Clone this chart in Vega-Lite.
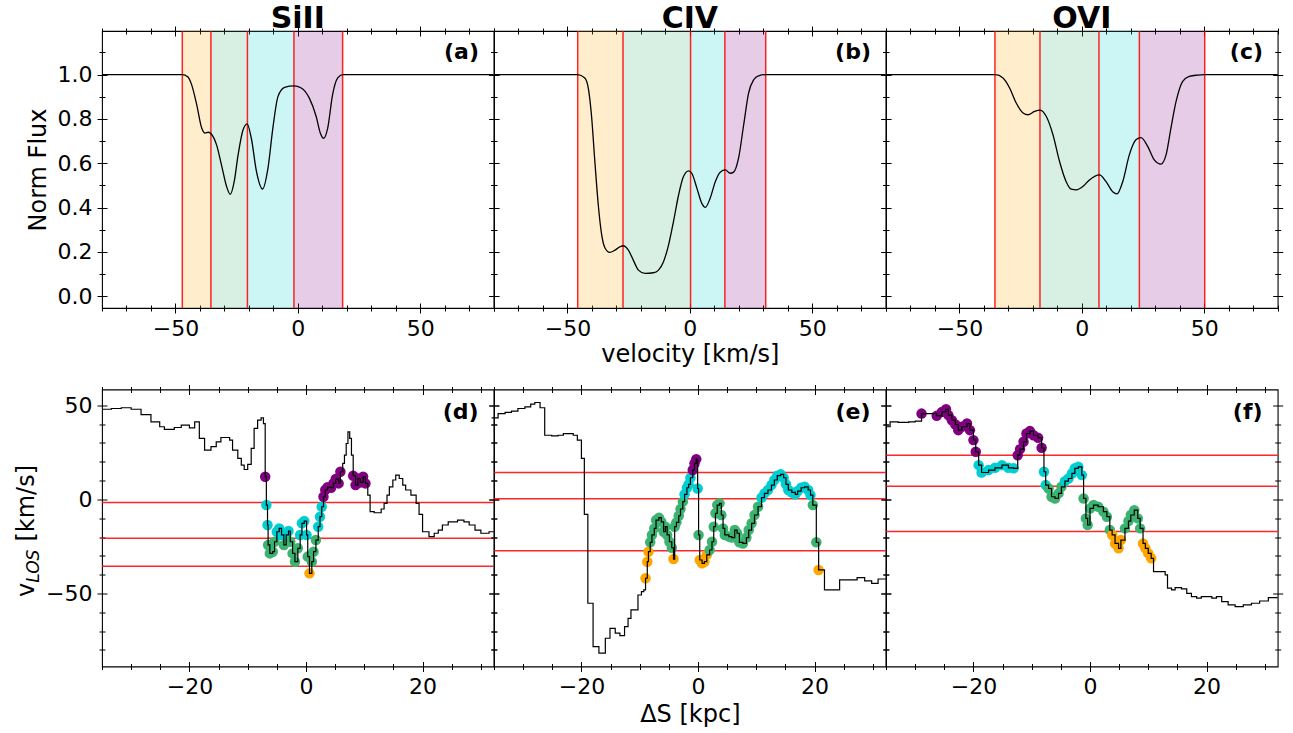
{
"$schema": "https://vega.github.io/schema/vega-lite/v6.json",
"background": "white",
"autosize": {"type": "pad"},
"padding": {"left": 13, "top": 3, "right": 10, "bottom": 5},
"config": {
 "font": "DejaVu Sans",
 "view": {"stroke": "#000", "strokeWidth": 1.1},
 "axis": {"domain": false, "grid": false, "tickColor": "#000", "tickWidth": 1, "labelFontSize": 22, "labelColor": "#000", "labelFlush": false, "labelOverlap": false, "labelPadding": 5, "titleFontSize": 24, "titleFontWeight": "normal", "titleColor": "#000"},
 "title": {"fontSize": 30, "fontWeight": "bold", "color": "#000", "offset": -8.8}
},
"datasets": {
 "regA": [{"v0":-47.2,"v1":-35.5,"r":"o"},{"v0":-35.5,"v1":-20.6,"r":"g"},{"v0":-20.6,"v1":-1.6,"r":"c"},{"v0":-1.6,"v1":18.3,"r":"p"}],
 "regB": [{"v0":-45.8,"v1":-27.3,"r":"o"},{"v0":-27.3,"v1":0.3,"r":"g"},{"v0":0.3,"v1":14.3,"r":"c"},{"v0":14.3,"v1":31.0,"r":"p"}],
 "regC": [{"v0":-35.5,"v1":-17.1,"r":"o"},{"v0":-17.1,"v1":7.0,"r":"g"},{"v0":7.0,"v1":23.5,"r":"c"},{"v0":23.5,"v1":50.2,"r":"p"}],
 "bndA": [{"v":-47.2},{"v":-35.5},{"v":-20.6},{"v":-1.6},{"v":18.3}],
 "bndB": [{"v":-45.8},{"v":-27.3},{"v":0.3},{"v":14.3},{"v":31.0}],
 "bndC": [{"v":-35.5},{"v":-17.1},{"v":7.0},{"v":23.5},{"v":50.2}],
 "hD": [{"v":-35.5},{"v":-20.6},{"v":-1.6}],
 "hE": [{"v":-27.3},{"v":0.3},{"v":14.3}],
 "hF": [{"v":-17.1},{"v":7.0},{"v":23.5}],
 "labA": [{"vel":74,"flux":1.1,"t":"(a)"}],
 "labB": [{"vel":74,"flux":1.1,"t":"(b)"}],
 "labC": [{"vel":74,"flux":1.1,"t":"(c)"}],
 "labD": [{"ds":29.6,"vlos":46.2,"t":"(d)"}],
 "labE": [{"ds":29.6,"vlos":46.2,"t":"(e)"}],
 "labF": [{"ds":29.6,"vlos":46.2,"t":"(f)"}],
 "specA": [{"vel":-80,"flux":1},{"vel":-47.2,"flux":1},{"vel":-45,"flux":0.99},{"vel":-43.4,"flux":0.955},{"vel":-41.3,"flux":0.864},{"vel":-39.3,"flux":0.76},{"vel":-37.9,"flux":0.736},{"vel":-36.6,"flux":0.74},{"vel":-35.2,"flux":0.73},{"vel":-33.2,"flux":0.683},{"vel":-31.2,"flux":0.593},{"vel":-29.1,"flux":0.495},{"vel":-27.6,"flux":0.46},{"vel":-26.0,"flux":0.517},{"vel":-24.4,"flux":0.638},{"vel":-22.4,"flux":0.75},{"vel":-20.7,"flux":0.778},{"vel":-19.0,"flux":0.713},{"vel":-16.9,"flux":0.563},{"vel":-14.4,"flux":0.484},{"vel":-12.2,"flux":0.578},{"vel":-10.2,"flux":0.759},{"vel":-8.1,"flux":0.902},{"vel":-5.4,"flux":0.943},{"vel":-1.6,"flux":0.949},{"vel":1.4,"flux":0.94},{"vel":4.7,"flux":0.894},{"vel":7.5,"flux":0.811},{"vel":9.2,"flux":0.736},{"vel":10.6,"flux":0.713},{"vel":12.2,"flux":0.759},{"vel":14.2,"flux":0.91},{"vel":16.3,"flux":0.985},{"vel":18.3,"flux":1},{"vel":80,"flux":1}],
 "specB": [{"vel":-80,"flux":1},{"vel":-45.8,"flux":1},{"vel":-42.9,"flux":0.985},{"vel":-41.5,"flux":0.94},{"vel":-40.2,"flux":0.819},{"vel":-38.8,"flux":0.608},{"vel":-37.4,"flux":0.412},{"vel":-36.1,"flux":0.284},{"vel":-34.7,"flux":0.219},{"vel":-32.7,"flux":0.198},{"vel":-30.6,"flux":0.208},{"vel":-28.6,"flux":0.223},{"vel":-27.2,"flux":0.228},{"vel":-25.1,"flux":0.208},{"vel":-23.1,"flux":0.163},{"vel":-21.0,"flux":0.118},{"vel":-18.3,"flux":0.103},{"vel":-14.9,"flux":0.106},{"vel":-12.8,"flux":0.118},{"vel":-10.8,"flux":0.155},{"vel":-8.7,"flux":0.231},{"vel":-6.7,"flux":0.336},{"vel":-4.6,"flux":0.457},{"vel":-2.6,"flux":0.54},{"vel":-0.5,"flux":0.566},{"vel":0.8,"flux":0.555},{"vel":2.9,"flux":0.487},{"vel":4.9,"flux":0.419},{"vel":6.3,"flux":0.401},{"vel":8.3,"flux":0.442},{"vel":10.4,"flux":0.517},{"vel":12.4,"flux":0.56},{"vel":14.5,"flux":0.57},{"vel":16.5,"flux":0.555},{"vel":17.9,"flux":0.56},{"vel":19.9,"flux":0.623},{"vel":22.0,"flux":0.774},{"vel":24.0,"flux":0.917},{"vel":26.1,"flux":0.977},{"vel":28.1,"flux":0.995},{"vel":31.0,"flux":1},{"vel":80,"flux":1}],
 "specC": [{"vel":-80,"flux":1},{"vel":-35.3,"flux":1},{"vel":-32.2,"flux":0.985},{"vel":-29.5,"flux":0.94},{"vel":-26.8,"flux":0.872},{"vel":-24.0,"flux":0.827},{"vel":-22.0,"flux":0.819},{"vel":-19.3,"flux":0.834},{"vel":-17.0,"flux":0.84},{"vel":-14.5,"flux":0.811},{"vel":-11.8,"flux":0.729},{"vel":-9.1,"flux":0.608},{"vel":-6.4,"flux":0.517},{"vel":-4.3,"flux":0.483},{"vel":-2.3,"flux":0.48},{"vel":0.4,"flux":0.495},{"vel":3.1,"flux":0.525},{"vel":7.2,"flux":0.548},{"vel":9.9,"flux":0.517},{"vel":12.6,"flux":0.472},{"vel":14.4,"flux":0.462},{"vel":16.7,"flux":0.517},{"vel":19.4,"flux":0.638},{"vel":22.1,"flux":0.706},{"vel":24.2,"flux":0.716},{"vel":26.9,"flux":0.676},{"vel":29.6,"flux":0.615},{"vel":32.3,"flux":0.596},{"vel":34.4,"flux":0.638},{"vel":36.4,"flux":0.759},{"vel":38.5,"flux":0.879},{"vel":41.2,"flux":0.97},{"vel":43.9,"flux":0.992},{"vel":47.3,"flux":0.998},{"vel":50.1,"flux":1},{"vel":80,"flux":1}],
 "losD": [{"ds":-35.0,"vlos":47.9},{"ds":-33.4,"vlos":48.3},{"ds":-31.7,"vlos":48.7},{"ds":-30.0,"vlos":47.9},{"ds":-28.3,"vlos":45.1},{"ds":-26.6,"vlos":41.2},{"ds":-25.1,"vlos":38.6},{"ds":-24.3,"vlos":37.2},{"ds":-22.6,"vlos":38.2},{"ds":-21.4,"vlos":39.5},{"ds":-20.0,"vlos":38.0},{"ds":-19.1,"vlos":41.2},{"ds":-18.3,"vlos":32.4},{"ds":-17.4,"vlos":26.2},{"ds":-16.3,"vlos":28.0},{"ds":-15.4,"vlos":30.6},{"ds":-14.6,"vlos":32.9},{"ds":-13.1,"vlos":31.5},{"ds":-12.6,"vlos":26.2},{"ds":-11.7,"vlos":21.8},{"ds":-11.1,"vlos":18.2},{"ds":-10.6,"vlos":15.9},{"ds":-10.0,"vlos":18.6},{"ds":-9.4,"vlos":27.1},{"ds":-8.9,"vlos":37.7},{"ds":-8.3,"vlos":42.1},{"ds":-7.7,"vlos":43.3},{"ds":-7.3,"vlos":40.3},{"ds":-7.0,"vlos":12.0},{"ds":-6.8,"vlos":-3.0},{"ds":-6.6,"vlos":-13.6},{"ds":-6.5,"vlos":-24.2},{"ds":-6.2,"vlos":-28.7},{"ds":-5.7,"vlos":-27.8},{"ds":-5.4,"vlos":-22.5},{"ds":-5.0,"vlos":-17.2},{"ds":-4.6,"vlos":-15.4},{"ds":-4.2,"vlos":-18.9},{"ds":-3.8,"vlos":-24.2},{"ds":-3.4,"vlos":-18.9},{"ds":-3.0,"vlos":-16.8},{"ds":-2.7,"vlos":-22.5},{"ds":-2.3,"vlos":-28.7},{"ds":-1.9,"vlos":-33.1},{"ds":-1.4,"vlos":-26.0},{"ds":-1.0,"vlos":-18.9},{"ds":-0.7,"vlos":-12.7},{"ds":-0.3,"vlos":-11.5},{"ds":0.1,"vlos":-18.9},{"ds":0.3,"vlos":-30.4},{"ds":0.6,"vlos":-39.3},{"ds":1.0,"vlos":-33.1},{"ds":1.3,"vlos":-27.8},{"ds":1.7,"vlos":-21.6},{"ds":2.1,"vlos":-14.5},{"ds":2.4,"vlos":-9.2},{"ds":2.7,"vlos":-3.9},{"ds":3.0,"vlos":1.4},{"ds":3.3,"vlos":5.0},{"ds":3.7,"vlos":6.5},{"ds":4.3,"vlos":6.2},{"ds":4.7,"vlos":8.5},{"ds":5.1,"vlos":10.8},{"ds":5.6,"vlos":8.5},{"ds":5.9,"vlos":14.7},{"ds":6.3,"vlos":19.1},{"ds":6.6,"vlos":23.5},{"ds":6.9,"vlos":29.7},{"ds":7.2,"vlos":35.9},{"ds":7.5,"vlos":32.4},{"ds":7.8,"vlos":23.5},{"ds":8.1,"vlos":12.6},{"ds":8.5,"vlos":7.6},{"ds":8.9,"vlos":11.1},{"ds":9.3,"vlos":9.0},{"ds":9.8,"vlos":12.0},{"ds":10.2,"vlos":8.5},{"ds":10.6,"vlos":2.3},{"ds":11.0,"vlos":-6.5},{"ds":11.7,"vlos":-7.1},{"ds":12.9,"vlos":-5.1},{"ds":13.4,"vlos":-2.1},{"ds":13.9,"vlos":2.3},{"ds":14.3,"vlos":6.7},{"ds":14.9,"vlos":10.3},{"ds":15.4,"vlos":12.9},{"ds":16.0,"vlos":11.1},{"ds":16.6,"vlos":7.6},{"ds":17.1,"vlos":5.0},{"ds":18.0,"vlos":2.3},{"ds":18.9,"vlos":-2.1},{"ds":19.4,"vlos":-8.0},{"ds":20.0,"vlos":-17.2},{"ds":21.1,"vlos":-19.8},{"ds":22.0,"vlos":-18.0},{"ds":22.7,"vlos":-16.3},{"ds":23.4,"vlos":-13.6},{"ds":24.4,"vlos":-11.9},{"ds":26.0,"vlos":-11.0},{"ds":27.1,"vlos":-11.9},{"ds":28.0,"vlos":-13.6},{"ds":29.0,"vlos":-16.3},{"ds":30.0,"vlos":-18.0},{"ds":31.4,"vlos":-17.2},{"ds":32.2,"vlos":-17.2}],
 "losE": [{"ds":-35.4,"vlos":43.3},{"ds":-34.3,"vlos":45.6},{"ds":-33.1,"vlos":46.2},{"ds":-32.0,"vlos":46.9},{"ds":-30.9,"vlos":48.3},{"ds":-29.7,"vlos":49.2},{"ds":-28.7,"vlos":50.6},{"ds":-28.0,"vlos":51.5},{"ds":-27.1,"vlos":48.7},{"ds":-26.3,"vlos":34.1},{"ds":-25.1,"vlos":33.8},{"ds":-24.0,"vlos":34.1},{"ds":-23.1,"vlos":35.0},{"ds":-21.4,"vlos":34.1},{"ds":-20.7,"vlos":31.5},{"ds":-20.0,"vlos":21.8},{"ds":-19.5,"vlos":-8.0},{"ds":-18.9,"vlos":-55.2},{"ds":-18.0,"vlos":-78.2},{"ds":-17.0,"vlos":-81.7},{"ds":-15.9,"vlos":-73.8},{"ds":-15.1,"vlos":-68.5},{"ds":-14.2,"vlos":-71.1},{"ds":-13.4,"vlos":-72.4},{"ds":-12.6,"vlos":-67.6},{"ds":-12.0,"vlos":-63.2},{"ds":-11.5,"vlos":-58.7},{"ds":-10.3,"vlos":-50.8},{"ds":-9.7,"vlos":-49.0},{"ds":-9.3,"vlos":-48.1},{"ds":-9.0,"vlos":-41.9},{"ds":-8.7,"vlos":-33.1},{"ds":-8.5,"vlos":-27.8},{"ds":-8.2,"vlos":-22.8},{"ds":-7.9,"vlos":-18.9},{"ds":-7.5,"vlos":-15.4},{"ds":-7.2,"vlos":-11.0},{"ds":-6.7,"vlos":-9.7},{"ds":-6.3,"vlos":-11.9},{"ds":-5.9,"vlos":-17.2},{"ds":-5.6,"vlos":-14.5},{"ds":-5.3,"vlos":-18.9},{"ds":-4.9,"vlos":-22.5},{"ds":-4.5,"vlos":-25.7},{"ds":-4.2,"vlos":-31.7},{"ds":-4.0,"vlos":-14.5},{"ds":-3.7,"vlos":-12.2},{"ds":-3.3,"vlos":-8.7},{"ds":-3.0,"vlos":-5.1},{"ds":-2.6,"vlos":-1.2},{"ds":-2.3,"vlos":2.7},{"ds":-1.9,"vlos":6.2},{"ds":-1.6,"vlos":8.0},{"ds":-1.3,"vlos":11.5},{"ds":-0.9,"vlos":15.6},{"ds":-0.6,"vlos":19.1},{"ds":-0.3,"vlos":21.4},{"ds":-0.06,"vlos":5.8},{"ds":0.1,"vlos":-18.9},{"ds":0.3,"vlos":-32.2},{"ds":0.7,"vlos":-34.0},{"ds":1.1,"vlos":-33.1},{"ds":1.5,"vlos":-29.5},{"ds":2.0,"vlos":-26.9},{"ds":2.4,"vlos":-22.5},{"ds":2.7,"vlos":-14.5},{"ds":3.0,"vlos":-7.4},{"ds":3.3,"vlos":-3.0},{"ds":3.7,"vlos":-2.1},{"ds":4.0,"vlos":-8.3},{"ds":4.3,"vlos":-15.4},{"ds":4.6,"vlos":-18.9},{"ds":5.3,"vlos":-19.8},{"ds":5.8,"vlos":-20.3},{"ds":6.3,"vlos":-16.3},{"ds":6.7,"vlos":-18.0},{"ds":7.1,"vlos":-22.8},{"ds":7.7,"vlos":-23.4},{"ds":8.3,"vlos":-20.3},{"ds":8.7,"vlos":-16.3},{"ds":9.2,"vlos":-12.7},{"ds":9.7,"vlos":-8.3},{"ds":10.3,"vlos":-3.9},{"ds":10.9,"vlos":0.9},{"ds":11.4,"vlos":3.2},{"ds":12.0,"vlos":5.0},{"ds":12.6,"vlos":7.6},{"ds":13.1,"vlos":10.3},{"ds":13.6,"vlos":12.6},{"ds":14.2,"vlos":13.3},{"ds":14.7,"vlos":11.5},{"ds":15.1,"vlos":8.0},{"ds":15.5,"vlos":5.0},{"ds":16.1,"vlos":3.7},{"ds":16.7,"vlos":2.7},{"ds":17.1,"vlos":4.4},{"ds":17.7,"vlos":6.2},{"ds":18.3,"vlos":6.7},{"ds":18.9,"vlos":5.0},{"ds":19.3,"vlos":2.3},{"ds":19.7,"vlos":-3.0},{"ds":20.3,"vlos":-22.8},{"ds":20.7,"vlos":-37.5},{"ds":21.7,"vlos":-48.1},{"ds":24.3,"vlos":-42.8},{"ds":27.3,"vlos":-41.6},{"ds":28.6,"vlos":-43.3},{"ds":29.8,"vlos":-44.6},{"ds":30.9,"vlos":-42.3},{"ds":32.2,"vlos":-42.3}],
 "losF": [{"ds":-35.0,"vlos":38.6},{"ds":-34.3,"vlos":41.2},{"ds":-32.9,"vlos":40.9},{"ds":-31.1,"vlos":41.2},{"ds":-30.0,"vlos":41.6},{"ds":-28.9,"vlos":45.6},{"ds":-26.3,"vlos":44.4},{"ds":-25.4,"vlos":46.5},{"ds":-24.7,"vlos":47.9},{"ds":-24.3,"vlos":44.8},{"ds":-23.7,"vlos":42.1},{"ds":-23.1,"vlos":39.8},{"ds":-22.6,"vlos":36.8},{"ds":-22.0,"vlos":38.6},{"ds":-21.1,"vlos":40.3},{"ds":-20.6,"vlos":36.8},{"ds":-20.0,"vlos":31.5},{"ds":-19.6,"vlos":25.3},{"ds":-19.1,"vlos":18.2},{"ds":-18.6,"vlos":14.3},{"ds":-17.4,"vlos":15.6},{"ds":-16.3,"vlos":16.8},{"ds":-15.1,"vlos":18.2},{"ds":-14.0,"vlos":16.8},{"ds":-13.1,"vlos":16.5},{"ds":-12.4,"vlos":23.5},{"ds":-12.0,"vlos":26.7},{"ds":-11.4,"vlos":30.6},{"ds":-10.9,"vlos":35.0},{"ds":-10.3,"vlos":36.3},{"ds":-9.7,"vlos":34.1},{"ds":-8.9,"vlos":32.7},{"ds":-8.3,"vlos":27.4},{"ds":-7.9,"vlos":14.7},{"ds":-7.6,"vlos":7.6},{"ds":-7.1,"vlos":5.8},{"ds":-6.6,"vlos":1.4},{"ds":-6.0,"vlos":0.5},{"ds":-5.4,"vlos":3.2},{"ds":-4.9,"vlos":6.7},{"ds":-4.3,"vlos":9.7},{"ds":-3.7,"vlos":11.1},{"ds":-3.1,"vlos":13.8},{"ds":-2.6,"vlos":16.5},{"ds":-2.0,"vlos":17.3},{"ds":-1.4,"vlos":12.9},{"ds":-1.1,"vlos":0.5},{"ds":-0.7,"vlos":-10.1},{"ds":-0.4,"vlos":-13.6},{"ds":0.0,"vlos":-4.8},{"ds":0.6,"vlos":-3.0},{"ds":1.4,"vlos":-3.9},{"ds":2.3,"vlos":-6.5},{"ds":2.9,"vlos":-9.2},{"ds":3.4,"vlos":-16.3},{"ds":3.8,"vlos":-18.9},{"ds":4.3,"vlos":-23.4},{"ds":4.9,"vlos":-26.0},{"ds":5.3,"vlos":-21.6},{"ds":6.0,"vlos":-15.4},{"ds":6.6,"vlos":-11.5},{"ds":7.0,"vlos":-8.3},{"ds":7.6,"vlos":-5.7},{"ds":8.2,"vlos":-10.1},{"ds":8.6,"vlos":-15.4},{"ds":9.1,"vlos":-23.4},{"ds":9.5,"vlos":-26.0},{"ds":10.0,"vlos":-28.7},{"ds":10.5,"vlos":-31.3},{"ds":10.9,"vlos":-38.4},{"ds":12.9,"vlos":-40.1},{"ds":13.3,"vlos":-47.2},{"ds":14.0,"vlos":-48.1},{"ds":14.6,"vlos":-46.9},{"ds":15.7,"vlos":-47.6},{"ds":16.6,"vlos":-49.9},{"ds":17.4,"vlos":-51.7},{"ds":18.3,"vlos":-52.5},{"ds":19.1,"vlos":-51.7},{"ds":20.9,"vlos":-52.5},{"ds":21.7,"vlos":-51.7},{"ds":22.6,"vlos":-54.3},{"ds":23.7,"vlos":-56.1},{"ds":24.9,"vlos":-57.0},{"ds":26.3,"vlos":-56.1},{"ds":27.7,"vlos":-55.2},{"ds":29.1,"vlos":-54.0},{"ds":30.6,"vlos":-52.2},{"ds":32.2,"vlos":-52.2}]
},
"bounds": "flush",
"columns": 3,
"spacing": {"row": 81.5, "column": 0},
"resolve": {"scale": {"color": "independent", "fill": "independent"}},
"concat": [
 {"width": 391.67, "height": 277, "title": {"text": "SiII"},
  "resolve": {"axis": {"x": "independent", "y": "independent"}},
  "layer": [
   {"data": {"name": "regA"}, "mark": {"type": "rect", "opacity": 0.2}, "encoding": {"x": {"field": "v0", "type": "quantitative", "scale": {"domain": [-80, 80], "nice": false, "zero": false}, "axis": null}, "x2": {"field": "v1"}, "fill": {"field": "r", "type": "nominal", "scale": {"domain": ["o","g","c","p"], "range": ["#FFA500","#3CB371","#00CED1","#800080"]}, "legend": null}}},
   {"data": {"name": "bndA"}, "mark": {"type": "rule", "color": "#ff0000", "strokeWidth": 1.5, "opacity": 0.85}, "encoding": {"x": {"field": "v", "type": "quantitative", "scale": {"domain": [-80, 80], "nice": false, "zero": false}, "axis": null}}},
   {"data": {"name": "specA"}, "mark": {"type": "line", "color": "#000", "strokeWidth": 1.3, "interpolate": "monotone"}, "encoding": {
     "x": {"field": "vel", "type": "quantitative", "scale": {"domain": [-80, 80], "nice": false, "zero": false}, "axis": {"orient": "bottom", "values": [-80,-70,-60,-50,-40,-30,-20,-10,0,10,20,30,40,50,60,70,80], "tickSize": {"condition": {"test": "datum.value % 50 === 0", "value": 5}, "value": 3}, "labelExpr": "datum.value % 50 === 0 ? datum.label : ''", "title": null}},
     "y": {"field": "flux", "type": "quantitative", "scale": {"domain": [-0.053, 1.197], "nice": false, "zero": false}, "axis": {"orient": "left", "values": [0,0.1,0.2,0.3,0.4,0.5,0.6,0.7,0.8,0.9,1,1.1], "format": ".1f", "tickSize": {"condition": {"test": "round(datum.value*10) % 2 === 0", "value": 5}, "value": 3}, "labelExpr": "round(datum.value*10) % 2 === 0 ? datum.label : ''", "title": "Norm Flux", "titleX": -57, "titleY": 138.5, "titleAngle": 270, "titleAlign": "center", "titleBaseline": "alphabetic"}}}},
   {"data": {"name": "labA"}, "mark": {"type": "point", "opacity": 0}, "encoding": {
     "x": {"field": "vel", "type": "quantitative", "scale": {"domain": [-80, 80], "nice": false, "zero": false}, "axis": {"orient": "bottom", "values": [-80,-70,-60,-50,-40,-30,-20,-10,0,10,20,30,40,50,60,70,80], "tickSize": {"condition": {"test": "datum.value % 50 === 0", "value": -5}, "value": -3}, "labels": false, "title": null}},
     "y": {"field": "flux", "type": "quantitative", "scale": {"domain": [-0.053, 1.197], "nice": false, "zero": false}, "axis": {"orient": "left", "values": [0,0.1,0.2,0.3,0.4,0.5,0.6,0.7,0.8,0.9,1,1.1], "tickSize": {"condition": {"test": "round(datum.value*10) % 2 === 0", "value": -5}, "value": -3}, "labels": false, "title": null}}}},
   {"data": {"name": "labA"}, "mark": {"type": "point", "opacity": 0}, "encoding": {
     "x": {"field": "vel", "type": "quantitative", "scale": {"domain": [-80, 80], "nice": false, "zero": false}, "axis": {"orient": "top", "values": [-80,-70,-60,-50,-40,-30,-20,-10,0,10,20,30,40,50,60,70,80], "tickSize": {"condition": {"test": "datum.value % 50 === 0", "value": 5}, "value": 3}, "labels": false, "title": null}},
     "y": {"field": "flux", "type": "quantitative", "scale": {"domain": [-0.053, 1.197], "nice": false, "zero": false}, "axis": {"orient": "right", "values": [0,0.1,0.2,0.3,0.4,0.5,0.6,0.7,0.8,0.9,1,1.1], "tickSize": {"condition": {"test": "round(datum.value*10) % 2 === 0", "value": 5}, "value": 3}, "labels": false, "title": null}}}},
   {"data": {"name": "labA"}, "mark": {"type": "point", "opacity": 0}, "encoding": {
     "x": {"field": "vel", "type": "quantitative", "scale": {"domain": [-80, 80], "nice": false, "zero": false}, "axis": {"orient": "top", "values": [-80,-70,-60,-50,-40,-30,-20,-10,0,10,20,30,40,50,60,70,80], "tickSize": {"condition": {"test": "datum.value % 50 === 0", "value": -5}, "value": -3}, "labels": false, "title": null}},
     "y": {"field": "flux", "type": "quantitative", "scale": {"domain": [-0.053, 1.197], "nice": false, "zero": false}, "axis": {"orient": "right", "values": [0,0.1,0.2,0.3,0.4,0.5,0.6,0.7,0.8,0.9,1,1.1], "tickSize": {"condition": {"test": "round(datum.value*10) % 2 === 0", "value": -5}, "value": -3}, "labels": false, "title": null}}}},
   {"data": {"name": "labA"}, "mark": {"type": "text", "align": "right", "baseline": "middle", "fontSize": 22, "fontWeight": "bold", "color": "#000"}, "encoding": {"x": {"field": "vel", "type": "quantitative", "scale": {"domain": [-80, 80], "nice": false, "zero": false}, "axis": null}, "y": {"field": "flux", "type": "quantitative", "scale": {"domain": [-0.053, 1.197], "nice": false, "zero": false}, "axis": null}, "text": {"field": "t"}}}
  ]},
 {"width": 391.67, "height": 277, "title": {"text": "CIV"},
  "resolve": {"axis": {"x": "independent", "y": "independent"}},
  "layer": [
   {"data": {"name": "regB"}, "mark": {"type": "rect", "opacity": 0.2}, "encoding": {"x": {"field": "v0", "type": "quantitative", "scale": {"domain": [-80, 80], "nice": false, "zero": false}, "axis": null}, "x2": {"field": "v1"}, "fill": {"field": "r", "type": "nominal", "scale": {"domain": ["o","g","c","p"], "range": ["#FFA500","#3CB371","#00CED1","#800080"]}, "legend": null}}},
   {"data": {"name": "bndB"}, "mark": {"type": "rule", "color": "#ff0000", "strokeWidth": 1.5, "opacity": 0.85}, "encoding": {"x": {"field": "v", "type": "quantitative", "scale": {"domain": [-80, 80], "nice": false, "zero": false}, "axis": null}}},
   {"data": {"name": "specB"}, "mark": {"type": "line", "color": "#000", "strokeWidth": 1.3, "interpolate": "monotone"}, "encoding": {
     "x": {"field": "vel", "type": "quantitative", "scale": {"domain": [-80, 80], "nice": false, "zero": false}, "axis": {"orient": "bottom", "values": [-80,-70,-60,-50,-40,-30,-20,-10,0,10,20,30,40,50,60,70,80], "tickSize": {"condition": {"test": "datum.value % 50 === 0", "value": 5}, "value": 3}, "labelExpr": "datum.value % 50 === 0 ? datum.label : ''", "title": "velocity [km/s]", "titleX": 195.83, "titleY": 53, "titleAlign": "center", "titleBaseline": "alphabetic"}},
     "y": {"field": "flux", "type": "quantitative", "scale": {"domain": [-0.053, 1.197], "nice": false, "zero": false}, "axis": {"orient": "left", "values": [0,0.1,0.2,0.3,0.4,0.5,0.6,0.7,0.8,0.9,1,1.1], "tickSize": {"condition": {"test": "round(datum.value*10) % 2 === 0", "value": 5}, "value": 3}, "labels": false, "title": null}}}},
   {"data": {"name": "labB"}, "mark": {"type": "point", "opacity": 0}, "encoding": {
     "x": {"field": "vel", "type": "quantitative", "scale": {"domain": [-80, 80], "nice": false, "zero": false}, "axis": {"orient": "bottom", "values": [-80,-70,-60,-50,-40,-30,-20,-10,0,10,20,30,40,50,60,70,80], "tickSize": {"condition": {"test": "datum.value % 50 === 0", "value": -5}, "value": -3}, "labels": false, "title": null}},
     "y": {"field": "flux", "type": "quantitative", "scale": {"domain": [-0.053, 1.197], "nice": false, "zero": false}, "axis": {"orient": "left", "values": [0,0.1,0.2,0.3,0.4,0.5,0.6,0.7,0.8,0.9,1,1.1], "tickSize": {"condition": {"test": "round(datum.value*10) % 2 === 0", "value": -5}, "value": -3}, "labels": false, "title": null}}}},
   {"data": {"name": "labB"}, "mark": {"type": "point", "opacity": 0}, "encoding": {
     "x": {"field": "vel", "type": "quantitative", "scale": {"domain": [-80, 80], "nice": false, "zero": false}, "axis": {"orient": "top", "values": [-80,-70,-60,-50,-40,-30,-20,-10,0,10,20,30,40,50,60,70,80], "tickSize": {"condition": {"test": "datum.value % 50 === 0", "value": 5}, "value": 3}, "labels": false, "title": null}},
     "y": {"field": "flux", "type": "quantitative", "scale": {"domain": [-0.053, 1.197], "nice": false, "zero": false}, "axis": {"orient": "right", "values": [0,0.1,0.2,0.3,0.4,0.5,0.6,0.7,0.8,0.9,1,1.1], "tickSize": {"condition": {"test": "round(datum.value*10) % 2 === 0", "value": 5}, "value": 3}, "labels": false, "title": null}}}},
   {"data": {"name": "labB"}, "mark": {"type": "point", "opacity": 0}, "encoding": {
     "x": {"field": "vel", "type": "quantitative", "scale": {"domain": [-80, 80], "nice": false, "zero": false}, "axis": {"orient": "top", "values": [-80,-70,-60,-50,-40,-30,-20,-10,0,10,20,30,40,50,60,70,80], "tickSize": {"condition": {"test": "datum.value % 50 === 0", "value": -5}, "value": -3}, "labels": false, "title": null}},
     "y": {"field": "flux", "type": "quantitative", "scale": {"domain": [-0.053, 1.197], "nice": false, "zero": false}, "axis": {"orient": "right", "values": [0,0.1,0.2,0.3,0.4,0.5,0.6,0.7,0.8,0.9,1,1.1], "tickSize": {"condition": {"test": "round(datum.value*10) % 2 === 0", "value": -5}, "value": -3}, "labels": false, "title": null}}}},
   {"data": {"name": "labB"}, "mark": {"type": "text", "align": "right", "baseline": "middle", "fontSize": 22, "fontWeight": "bold", "color": "#000"}, "encoding": {"x": {"field": "vel", "type": "quantitative", "scale": {"domain": [-80, 80], "nice": false, "zero": false}, "axis": null}, "y": {"field": "flux", "type": "quantitative", "scale": {"domain": [-0.053, 1.197], "nice": false, "zero": false}, "axis": null}, "text": {"field": "t"}}}
  ]},
 {"width": 391.67, "height": 277, "title": {"text": "OVI"},
  "resolve": {"axis": {"x": "independent", "y": "independent"}},
  "layer": [
   {"data": {"name": "regC"}, "mark": {"type": "rect", "opacity": 0.2}, "encoding": {"x": {"field": "v0", "type": "quantitative", "scale": {"domain": [-80, 80], "nice": false, "zero": false}, "axis": null}, "x2": {"field": "v1"}, "fill": {"field": "r", "type": "nominal", "scale": {"domain": ["o","g","c","p"], "range": ["#FFA500","#3CB371","#00CED1","#800080"]}, "legend": null}}},
   {"data": {"name": "bndC"}, "mark": {"type": "rule", "color": "#ff0000", "strokeWidth": 1.5, "opacity": 0.85}, "encoding": {"x": {"field": "v", "type": "quantitative", "scale": {"domain": [-80, 80], "nice": false, "zero": false}, "axis": null}}},
   {"data": {"name": "specC"}, "mark": {"type": "line", "color": "#000", "strokeWidth": 1.3, "interpolate": "monotone"}, "encoding": {
     "x": {"field": "vel", "type": "quantitative", "scale": {"domain": [-80, 80], "nice": false, "zero": false}, "axis": {"orient": "bottom", "values": [-80,-70,-60,-50,-40,-30,-20,-10,0,10,20,30,40,50,60,70,80], "tickSize": {"condition": {"test": "datum.value % 50 === 0", "value": 5}, "value": 3}, "labelExpr": "datum.value % 50 === 0 ? datum.label : ''", "title": null}},
     "y": {"field": "flux", "type": "quantitative", "scale": {"domain": [-0.053, 1.197], "nice": false, "zero": false}, "axis": {"orient": "left", "values": [0,0.1,0.2,0.3,0.4,0.5,0.6,0.7,0.8,0.9,1,1.1], "tickSize": {"condition": {"test": "round(datum.value*10) % 2 === 0", "value": 5}, "value": 3}, "labels": false, "title": null}}}},
   {"data": {"name": "labC"}, "mark": {"type": "point", "opacity": 0}, "encoding": {
     "x": {"field": "vel", "type": "quantitative", "scale": {"domain": [-80, 80], "nice": false, "zero": false}, "axis": {"orient": "bottom", "values": [-80,-70,-60,-50,-40,-30,-20,-10,0,10,20,30,40,50,60,70,80], "tickSize": {"condition": {"test": "datum.value % 50 === 0", "value": -5}, "value": -3}, "labels": false, "title": null}},
     "y": {"field": "flux", "type": "quantitative", "scale": {"domain": [-0.053, 1.197], "nice": false, "zero": false}, "axis": {"orient": "left", "values": [0,0.1,0.2,0.3,0.4,0.5,0.6,0.7,0.8,0.9,1,1.1], "tickSize": {"condition": {"test": "round(datum.value*10) % 2 === 0", "value": -5}, "value": -3}, "labels": false, "title": null}}}},
   {"data": {"name": "labC"}, "mark": {"type": "point", "opacity": 0}, "encoding": {
     "x": {"field": "vel", "type": "quantitative", "scale": {"domain": [-80, 80], "nice": false, "zero": false}, "axis": {"orient": "top", "values": [-80,-70,-60,-50,-40,-30,-20,-10,0,10,20,30,40,50,60,70,80], "tickSize": {"condition": {"test": "datum.value % 50 === 0", "value": 5}, "value": 3}, "labels": false, "title": null}},
     "y": {"field": "flux", "type": "quantitative", "scale": {"domain": [-0.053, 1.197], "nice": false, "zero": false}, "axis": {"orient": "right", "values": [0,0.1,0.2,0.3,0.4,0.5,0.6,0.7,0.8,0.9,1,1.1], "tickSize": {"condition": {"test": "round(datum.value*10) % 2 === 0", "value": 5}, "value": 3}, "labels": false, "title": null}}}},
   {"data": {"name": "labC"}, "mark": {"type": "point", "opacity": 0}, "encoding": {
     "x": {"field": "vel", "type": "quantitative", "scale": {"domain": [-80, 80], "nice": false, "zero": false}, "axis": {"orient": "top", "values": [-80,-70,-60,-50,-40,-30,-20,-10,0,10,20,30,40,50,60,70,80], "tickSize": {"condition": {"test": "datum.value % 50 === 0", "value": -5}, "value": -3}, "labels": false, "title": null}},
     "y": {"field": "flux", "type": "quantitative", "scale": {"domain": [-0.053, 1.197], "nice": false, "zero": false}, "axis": {"orient": "right", "values": [0,0.1,0.2,0.3,0.4,0.5,0.6,0.7,0.8,0.9,1,1.1], "tickSize": {"condition": {"test": "round(datum.value*10) % 2 === 0", "value": -5}, "value": -3}, "labels": false, "title": null}}}},
   {"data": {"name": "labC"}, "mark": {"type": "text", "align": "right", "baseline": "middle", "fontSize": 22, "fontWeight": "bold", "color": "#000"}, "encoding": {"x": {"field": "vel", "type": "quantitative", "scale": {"domain": [-80, 80], "nice": false, "zero": false}, "axis": null}, "y": {"field": "flux", "type": "quantitative", "scale": {"domain": [-0.053, 1.197], "nice": false, "zero": false}, "axis": null}, "text": {"field": "t"}}}
  ]},
 {"width": 391.67, "height": 277,
  "resolve": {"axis": {"x": "independent", "y": "independent"}},
  "layer": [
   {"data": {"name": "hD"}, "mark": {"type": "rule", "color": "#ff0000", "strokeWidth": 1.5, "opacity": 0.85}, "encoding": {"y": {"field": "v", "type": "quantitative", "scale": {"domain": [-88.8, 58.4], "nice": false, "zero": false}, "axis": null}}},
   {"data": {"name": "losD"}, "transform": [{"filter": "datum.ds >= -7.1 && datum.ds <= 10.3 && datum.vlos >= -47.2 && datum.vlos <= 18.3"}], "mark": {"type": "circle", "size": 110, "opacity": 1}, "encoding": {"x": {"field": "ds", "type": "quantitative", "scale": {"domain": [-35, 32.2], "nice": false, "zero": false}, "axis": null}, "y": {"field": "vlos", "type": "quantitative", "scale": {"domain": [-88.8, 58.4], "nice": false, "zero": false}, "axis": null}, "color": {"field": "vlos", "type": "quantitative", "scale": {"type": "threshold", "domain": [-35.5, -20.6, -1.6], "range": ["#FFA500","#3CB371","#00CED1","#800080"]}, "legend": null}}},
   {"data": {"name": "losD"}, "mark": {"type": "line", "color": "#000", "strokeWidth": 1.2, "interpolate": "step-after"}, "encoding": {
     "x": {"field": "ds", "type": "quantitative", "scale": {"domain": [-35, 32.2], "nice": false, "zero": false}, "axis": {"orient": "bottom", "values": [-35,-30,-25,-20,-15,-10,-5,0,5,10,15,20,25,30], "tickSize": {"condition": {"test": "datum.value % 20 === 0", "value": 5}, "value": 3}, "labelExpr": "datum.value % 20 === 0 ? datum.label : ''", "title": null}},
     "y": {"field": "vlos", "type": "quantitative", "scale": {"domain": [-88.8, 58.4], "nice": false, "zero": false}, "axis": {"orient": "left", "values": [-80,-70,-60,-50,-40,-30,-20,-10,0,10,20,30,40,50], "tickSize": {"condition": {"test": "datum.value % 50 === 0", "value": 5}, "value": 3}, "labelExpr": "datum.value % 50 === 0 ? datum.label : ''", "title": "v", "titleX": -69, "titleY": 207, "titleAngle": 270, "titleAlign": "left", "titleBaseline": "alphabetic"}}}},
   {"data": {"name": "labD"}, "mark": {"type": "point", "opacity": 0}, "encoding": {
     "x": {"field": "ds", "type": "quantitative", "scale": {"domain": [-35, 32.2], "nice": false, "zero": false}, "axis": {"orient": "bottom", "values": [-35,-30,-25,-20,-15,-10,-5,0,5,10,15,20,25,30], "tickSize": {"condition": {"test": "datum.value % 20 === 0", "value": -5}, "value": -3}, "labels": false, "title": null}},
     "y": {"field": "vlos", "type": "quantitative", "scale": {"domain": [-88.8, 58.4], "nice": false, "zero": false}, "axis": {"orient": "left", "values": [-80,-70,-60,-50,-40,-30,-20,-10,0,10,20,30,40,50], "tickSize": {"condition": {"test": "datum.value % 50 === 0", "value": -5}, "value": -3}, "labels": false, "title": "LOS", "titleFontSize": 17, "titleFontStyle": "italic", "titleX": -64, "titleY": 192.8, "titleAngle": 270, "titleAlign": "left", "titleBaseline": "alphabetic"}}}},
   {"data": {"name": "labD"}, "mark": {"type": "point", "opacity": 0}, "encoding": {
     "x": {"field": "ds", "type": "quantitative", "scale": {"domain": [-35, 32.2], "nice": false, "zero": false}, "axis": {"orient": "top", "values": [-35,-30,-25,-20,-15,-10,-5,0,5,10,15,20,25,30], "tickSize": {"condition": {"test": "datum.value % 20 === 0", "value": 5}, "value": 3}, "labels": false, "title": null}},
     "y": {"field": "vlos", "type": "quantitative", "scale": {"domain": [-88.8, 58.4], "nice": false, "zero": false}, "axis": {"orient": "right", "values": [-80,-70,-60,-50,-40,-30,-20,-10,0,10,20,30,40,50], "tickSize": {"condition": {"test": "datum.value % 50 === 0", "value": 5}, "value": 3}, "labels": false, "title": "[km/s]", "titleX": -460.67, "titleY": 151.6, "titleAngle": 270, "titleAlign": "left", "titleBaseline": "alphabetic"}}}},
   {"data": {"name": "labD"}, "mark": {"type": "point", "opacity": 0}, "encoding": {
     "x": {"field": "ds", "type": "quantitative", "scale": {"domain": [-35, 32.2], "nice": false, "zero": false}, "axis": {"orient": "top", "values": [-35,-30,-25,-20,-15,-10,-5,0,5,10,15,20,25,30], "tickSize": {"condition": {"test": "datum.value % 20 === 0", "value": -5}, "value": -3}, "labels": false, "title": null}},
     "y": {"field": "vlos", "type": "quantitative", "scale": {"domain": [-88.8, 58.4], "nice": false, "zero": false}, "axis": {"orient": "right", "values": [-80,-70,-60,-50,-40,-30,-20,-10,0,10,20,30,40,50], "tickSize": {"condition": {"test": "datum.value % 50 === 0", "value": -5}, "value": -3}, "labels": false, "title": null}}}},
   {"data": {"name": "labD"}, "mark": {"type": "text", "align": "right", "baseline": "middle", "fontSize": 22, "fontWeight": "bold", "color": "#000"}, "encoding": {"x": {"field": "ds", "type": "quantitative", "scale": {"domain": [-35, 32.2], "nice": false, "zero": false}, "axis": null}, "y": {"field": "vlos", "type": "quantitative", "scale": {"domain": [-88.8, 58.4], "nice": false, "zero": false}, "axis": null}, "text": {"field": "t"}}}
  ]},
 {"width": 391.67, "height": 277,
  "resolve": {"axis": {"x": "independent", "y": "independent"}},
  "layer": [
   {"data": {"name": "hE"}, "mark": {"type": "rule", "color": "#ff0000", "strokeWidth": 1.5, "opacity": 0.85}, "encoding": {"y": {"field": "v", "type": "quantitative", "scale": {"domain": [-88.8, 58.4], "nice": false, "zero": false}, "axis": null}}},
   {"data": {"name": "losE"}, "transform": [{"filter": "datum.ds >= -9.05 && datum.ds <= 20.8 && datum.vlos >= -45.8 && datum.vlos <= 31"}], "mark": {"type": "circle", "size": 110, "opacity": 1}, "encoding": {"x": {"field": "ds", "type": "quantitative", "scale": {"domain": [-35, 32.2], "nice": false, "zero": false}, "axis": null}, "y": {"field": "vlos", "type": "quantitative", "scale": {"domain": [-88.8, 58.4], "nice": false, "zero": false}, "axis": null}, "color": {"field": "vlos", "type": "quantitative", "scale": {"type": "threshold", "domain": [-27.3, 0.3, 14.3], "range": ["#FFA500","#3CB371","#00CED1","#800080"]}, "legend": null}}},
   {"data": {"name": "losE"}, "mark": {"type": "line", "color": "#000", "strokeWidth": 1.2, "interpolate": "step-after"}, "encoding": {
     "x": {"field": "ds", "type": "quantitative", "scale": {"domain": [-35, 32.2], "nice": false, "zero": false}, "axis": {"orient": "bottom", "values": [-35,-30,-25,-20,-15,-10,-5,0,5,10,15,20,25,30], "tickSize": {"condition": {"test": "datum.value % 20 === 0", "value": 5}, "value": 3}, "labelExpr": "datum.value % 20 === 0 ? datum.label : ''", "title": "ΔS [kpc]", "titleX": 195.83, "titleY": 55, "titleAlign": "center", "titleBaseline": "alphabetic"}},
     "y": {"field": "vlos", "type": "quantitative", "scale": {"domain": [-88.8, 58.4], "nice": false, "zero": false}, "axis": {"orient": "left", "values": [-80,-70,-60,-50,-40,-30,-20,-10,0,10,20,30,40,50], "tickSize": {"condition": {"test": "datum.value % 50 === 0", "value": 5}, "value": 3}, "labels": false, "title": null}}}},
   {"data": {"name": "labE"}, "mark": {"type": "point", "opacity": 0}, "encoding": {
     "x": {"field": "ds", "type": "quantitative", "scale": {"domain": [-35, 32.2], "nice": false, "zero": false}, "axis": {"orient": "bottom", "values": [-35,-30,-25,-20,-15,-10,-5,0,5,10,15,20,25,30], "tickSize": {"condition": {"test": "datum.value % 20 === 0", "value": -5}, "value": -3}, "labels": false, "title": null}},
     "y": {"field": "vlos", "type": "quantitative", "scale": {"domain": [-88.8, 58.4], "nice": false, "zero": false}, "axis": {"orient": "left", "values": [-80,-70,-60,-50,-40,-30,-20,-10,0,10,20,30,40,50], "tickSize": {"condition": {"test": "datum.value % 50 === 0", "value": -5}, "value": -3}, "labels": false, "title": null}}}},
   {"data": {"name": "labE"}, "mark": {"type": "point", "opacity": 0}, "encoding": {
     "x": {"field": "ds", "type": "quantitative", "scale": {"domain": [-35, 32.2], "nice": false, "zero": false}, "axis": {"orient": "top", "values": [-35,-30,-25,-20,-15,-10,-5,0,5,10,15,20,25,30], "tickSize": {"condition": {"test": "datum.value % 20 === 0", "value": 5}, "value": 3}, "labels": false, "title": null}},
     "y": {"field": "vlos", "type": "quantitative", "scale": {"domain": [-88.8, 58.4], "nice": false, "zero": false}, "axis": {"orient": "right", "values": [-80,-70,-60,-50,-40,-30,-20,-10,0,10,20,30,40,50], "tickSize": {"condition": {"test": "datum.value % 50 === 0", "value": 5}, "value": 3}, "labels": false, "title": null}}}},
   {"data": {"name": "labE"}, "mark": {"type": "point", "opacity": 0}, "encoding": {
     "x": {"field": "ds", "type": "quantitative", "scale": {"domain": [-35, 32.2], "nice": false, "zero": false}, "axis": {"orient": "top", "values": [-35,-30,-25,-20,-15,-10,-5,0,5,10,15,20,25,30], "tickSize": {"condition": {"test": "datum.value % 20 === 0", "value": -5}, "value": -3}, "labels": false, "title": null}},
     "y": {"field": "vlos", "type": "quantitative", "scale": {"domain": [-88.8, 58.4], "nice": false, "zero": false}, "axis": {"orient": "right", "values": [-80,-70,-60,-50,-40,-30,-20,-10,0,10,20,30,40,50], "tickSize": {"condition": {"test": "datum.value % 50 === 0", "value": -5}, "value": -3}, "labels": false, "title": null}}}},
   {"data": {"name": "labE"}, "mark": {"type": "text", "align": "right", "baseline": "middle", "fontSize": 22, "fontWeight": "bold", "color": "#000"}, "encoding": {"x": {"field": "ds", "type": "quantitative", "scale": {"domain": [-35, 32.2], "nice": false, "zero": false}, "axis": null}, "y": {"field": "vlos", "type": "quantitative", "scale": {"domain": [-88.8, 58.4], "nice": false, "zero": false}, "axis": null}, "text": {"field": "t"}}}
  ]},
 {"width": 391.67, "height": 277,
  "resolve": {"axis": {"x": "independent", "y": "independent"}},
  "layer": [
   {"data": {"name": "hF"}, "mark": {"type": "rule", "color": "#ff0000", "strokeWidth": 1.5, "opacity": 0.85}, "encoding": {"y": {"field": "v", "type": "quantitative", "scale": {"domain": [-88.8, 58.4], "nice": false, "zero": false}, "axis": null}}},
   {"data": {"name": "losF"}, "transform": [{"filter": "datum.ds >= -29 && datum.ds <= 10.6 && datum.vlos >= -35.5 && datum.vlos <= 50.3"}], "mark": {"type": "circle", "size": 110, "opacity": 1}, "encoding": {"x": {"field": "ds", "type": "quantitative", "scale": {"domain": [-35, 32.2], "nice": false, "zero": false}, "axis": null}, "y": {"field": "vlos", "type": "quantitative", "scale": {"domain": [-88.8, 58.4], "nice": false, "zero": false}, "axis": null}, "color": {"field": "vlos", "type": "quantitative", "scale": {"type": "threshold", "domain": [-17.1, 7.0, 23.5], "range": ["#FFA500","#3CB371","#00CED1","#800080"]}, "legend": null}}},
   {"data": {"name": "losF"}, "mark": {"type": "line", "color": "#000", "strokeWidth": 1.2, "interpolate": "step-after"}, "encoding": {
     "x": {"field": "ds", "type": "quantitative", "scale": {"domain": [-35, 32.2], "nice": false, "zero": false}, "axis": {"orient": "bottom", "values": [-35,-30,-25,-20,-15,-10,-5,0,5,10,15,20,25,30], "tickSize": {"condition": {"test": "datum.value % 20 === 0", "value": 5}, "value": 3}, "labelExpr": "datum.value % 20 === 0 ? datum.label : ''", "title": null}},
     "y": {"field": "vlos", "type": "quantitative", "scale": {"domain": [-88.8, 58.4], "nice": false, "zero": false}, "axis": {"orient": "left", "values": [-80,-70,-60,-50,-40,-30,-20,-10,0,10,20,30,40,50], "tickSize": {"condition": {"test": "datum.value % 50 === 0", "value": 5}, "value": 3}, "labels": false, "title": null}}}},
   {"data": {"name": "labF"}, "mark": {"type": "point", "opacity": 0}, "encoding": {
     "x": {"field": "ds", "type": "quantitative", "scale": {"domain": [-35, 32.2], "nice": false, "zero": false}, "axis": {"orient": "bottom", "values": [-35,-30,-25,-20,-15,-10,-5,0,5,10,15,20,25,30], "tickSize": {"condition": {"test": "datum.value % 20 === 0", "value": -5}, "value": -3}, "labels": false, "title": null}},
     "y": {"field": "vlos", "type": "quantitative", "scale": {"domain": [-88.8, 58.4], "nice": false, "zero": false}, "axis": {"orient": "left", "values": [-80,-70,-60,-50,-40,-30,-20,-10,0,10,20,30,40,50], "tickSize": {"condition": {"test": "datum.value % 50 === 0", "value": -5}, "value": -3}, "labels": false, "title": null}}}},
   {"data": {"name": "labF"}, "mark": {"type": "point", "opacity": 0}, "encoding": {
     "x": {"field": "ds", "type": "quantitative", "scale": {"domain": [-35, 32.2], "nice": false, "zero": false}, "axis": {"orient": "top", "values": [-35,-30,-25,-20,-15,-10,-5,0,5,10,15,20,25,30], "tickSize": {"condition": {"test": "datum.value % 20 === 0", "value": 5}, "value": 3}, "labels": false, "title": null}},
     "y": {"field": "vlos", "type": "quantitative", "scale": {"domain": [-88.8, 58.4], "nice": false, "zero": false}, "axis": {"orient": "right", "values": [-80,-70,-60,-50,-40,-30,-20,-10,0,10,20,30,40,50], "tickSize": {"condition": {"test": "datum.value % 50 === 0", "value": 5}, "value": 3}, "labels": false, "title": null}}}},
   {"data": {"name": "labF"}, "mark": {"type": "point", "opacity": 0}, "encoding": {
     "x": {"field": "ds", "type": "quantitative", "scale": {"domain": [-35, 32.2], "nice": false, "zero": false}, "axis": {"orient": "top", "values": [-35,-30,-25,-20,-15,-10,-5,0,5,10,15,20,25,30], "tickSize": {"condition": {"test": "datum.value % 20 === 0", "value": -5}, "value": -3}, "labels": false, "title": null}},
     "y": {"field": "vlos", "type": "quantitative", "scale": {"domain": [-88.8, 58.4], "nice": false, "zero": false}, "axis": {"orient": "right", "values": [-80,-70,-60,-50,-40,-30,-20,-10,0,10,20,30,40,50], "tickSize": {"condition": {"test": "datum.value % 50 === 0", "value": -5}, "value": -3}, "labels": false, "title": null}}}},
   {"data": {"name": "labF"}, "mark": {"type": "text", "align": "right", "baseline": "middle", "fontSize": 22, "fontWeight": "bold", "color": "#000"}, "encoding": {"x": {"field": "ds", "type": "quantitative", "scale": {"domain": [-35, 32.2], "nice": false, "zero": false}, "axis": null}, "y": {"field": "vlos", "type": "quantitative", "scale": {"domain": [-88.8, 58.4], "nice": false, "zero": false}, "axis": null}, "text": {"field": "t"}}}
  ]}
]
}
